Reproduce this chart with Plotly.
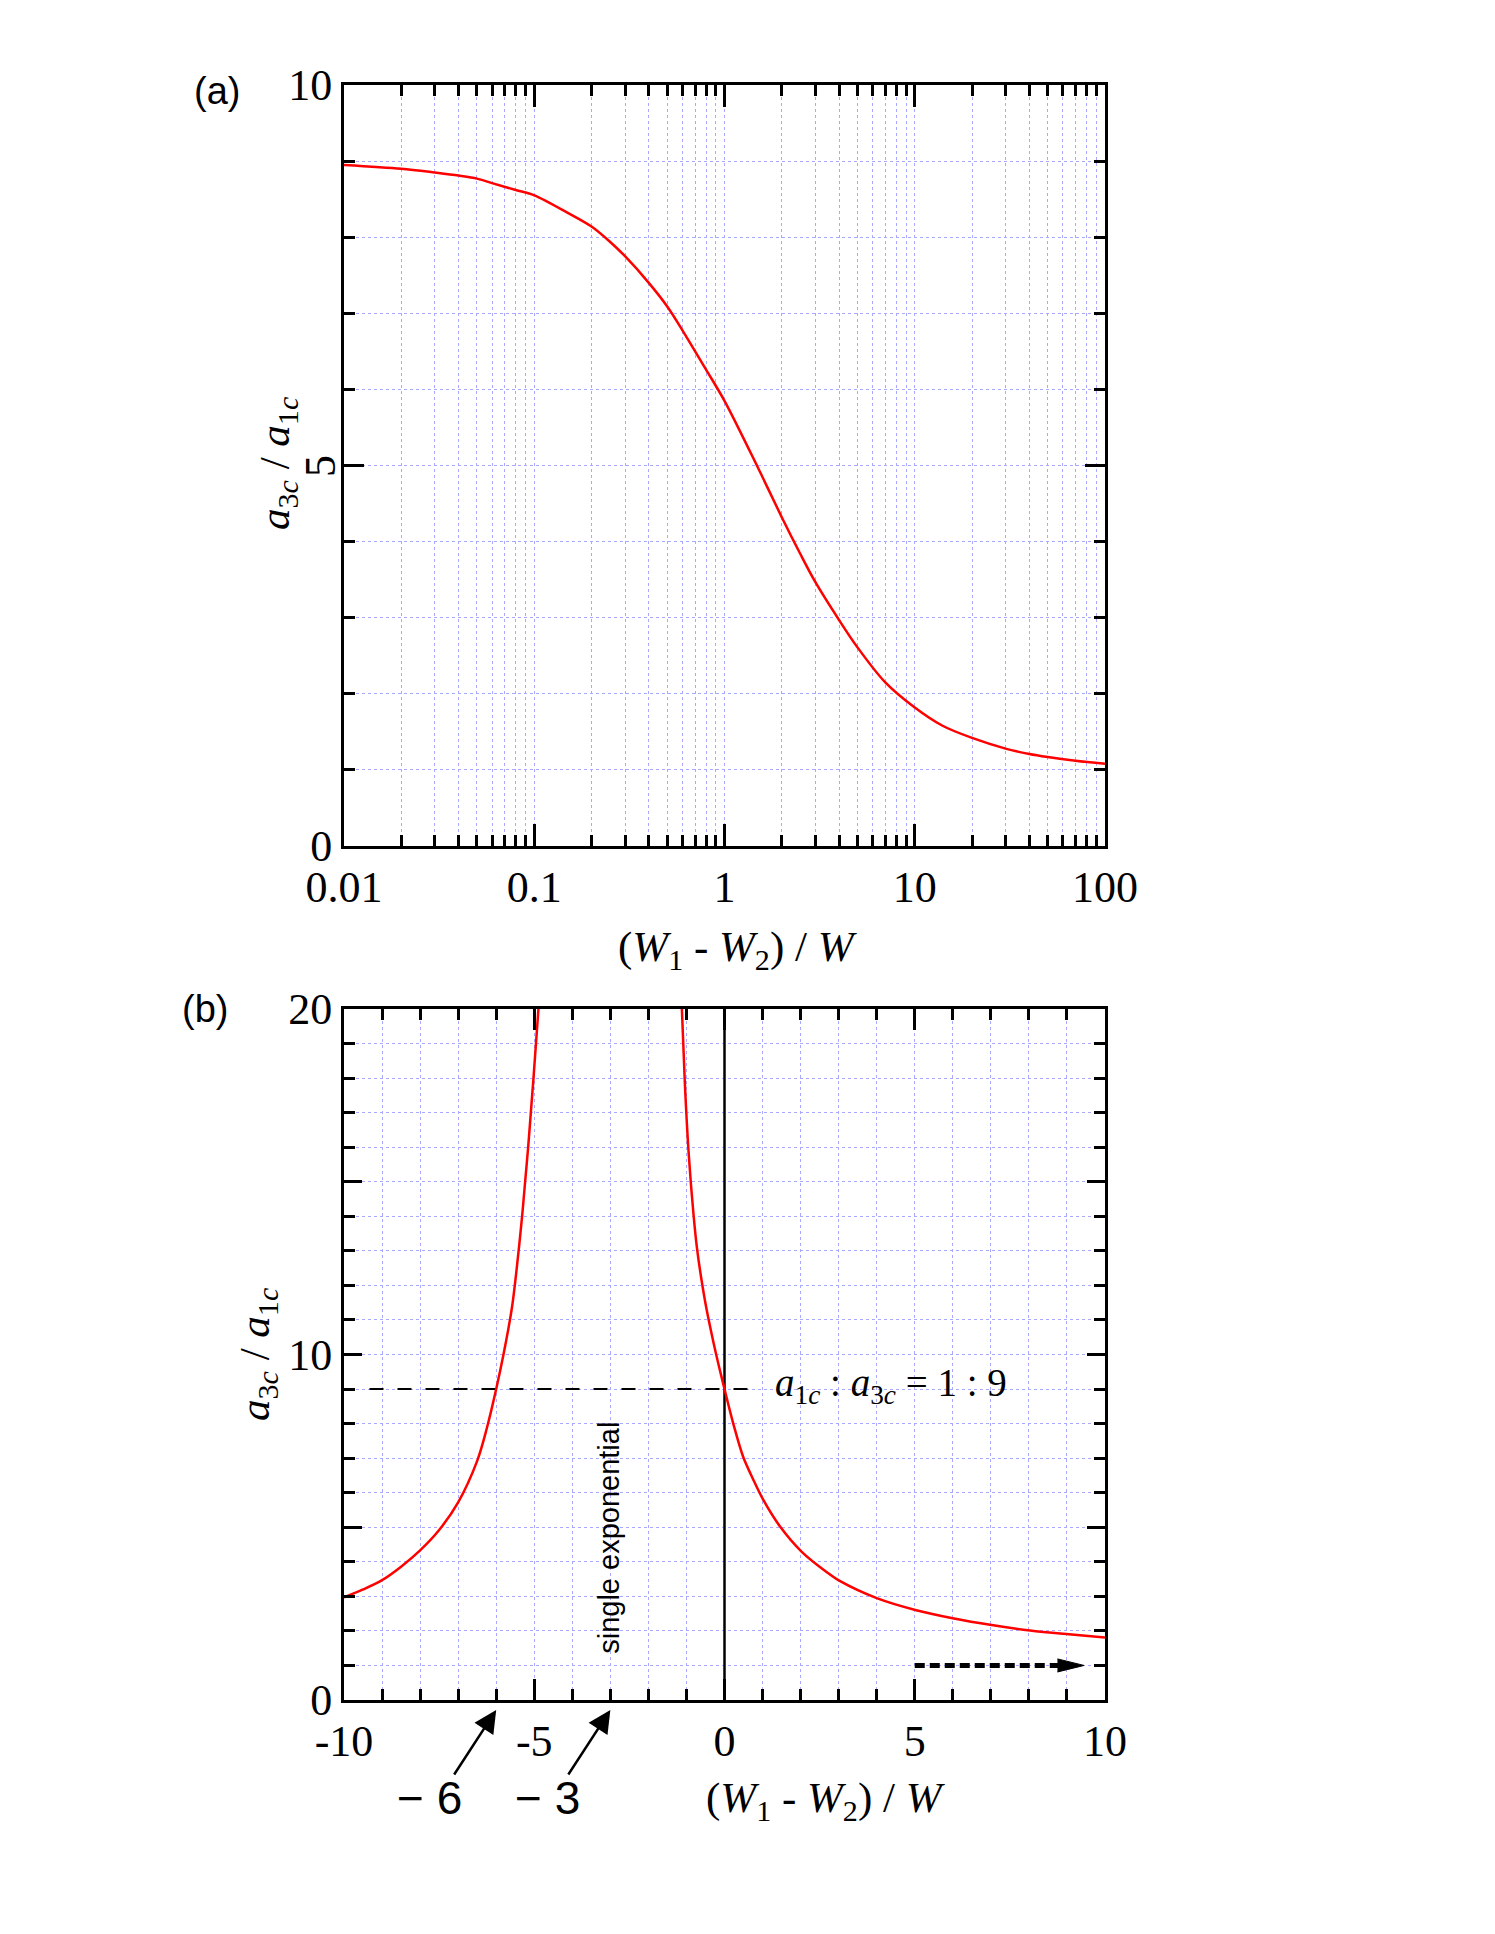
import plotly.graph_objects as go

# panel (a): a3c/a1c against (W1-W2)/W, log x axis
xa = [0.01, 0.02, 0.03, 0.04, 0.05, 0.06, 0.08, 0.1, 0.15, 0.2, 0.25, 0.3, 0.4, 0.5, 0.6, 0.8,
      1.0, 1.5, 2.0, 2.5, 3.0, 4.0, 5.0, 7.0, 10, 14, 20, 30, 40, 50, 70, 100]
ya = [8.95, 8.90, 8.85, 8.81, 8.77, 8.71, 8.62, 8.55, 8.32, 8.14, 7.94, 7.75, 7.40, 7.09, 6.78, 6.26,
      5.85, 4.97, 4.32, 3.84, 3.47, 2.97, 2.61, 2.15, 1.82, 1.58, 1.42, 1.28, 1.21, 1.17, 1.12, 1.08]

# panel (b): linear x axis, two branches around the poles
xb_left = [-10, -9.5, -9, -8.5, -8, -7.5, -7, -6.5, -6.25, -6, -5.81, -5.59, -5.46, -5.32, -5.24,
           -5.16, -5.09, -5.02, -4.89]
yb_left = [2.97, 3.20, 3.47, 3.86, 4.33, 4.92, 5.72, 6.92, 7.85, 9.0, 9.99, 11.33, 12.5, 13.99, 15.0,
           16.0, 17.0, 18.0, 20]
xb_right = [-1.12, -1.04, -0.94, -0.81, -0.72, -0.61, -0.47, -0.29, -0.14, 0, 0.23, 0.49, 0.76, 1.02,
            1.46, 2.03, 2.69, 3.04, 4.0, 5.04, 6.03, 7.02, 8.03, 9.05, 10]
yb_right = [20, 17.8, 15.8, 14.0, 13.05, 12.2, 11.3, 10.35, 9.63, 9.0, 8.0, 7.04, 6.37, 5.79,
            5.02, 4.29, 3.70, 3.44, 2.95, 2.60, 2.36, 2.17, 2.01, 1.90, 1.81]

# reference marks in panel (b)
ratio_x = [-9.33, 0.88]
ratio_y = [9, 9]
zero_x = [0, 0]
zero_y = [0, 20]
limit_x = [5, 8.8]
limit_y = [1, 1]
head_x = [8.75, 9.45, 8.75]
head_y = [0.81, 1.0, 1.19]
marked_x = [-6, -3]
marked_labels = ["\u2212 6", "\u2212 3"]

SERIF = "Liberation Serif"
SANS = "Liberation Sans"
GRID = "#a9a9ff"
W, H = 1495, 1934
OFF = 8  # page body margin


def px(x):
    return (x - OFF) / W


def py(y):
    return 1 - (y - OFF) / H


fig = go.Figure()
red = dict(color="red", width=2.5, shape="spline", smoothing=0.9)
fig.add_trace(go.Scatter(x=xa, y=ya, mode="lines", line=red, xaxis="x", yaxis="y", showlegend=False))
fig.add_trace(go.Scatter(x=zero_x, y=zero_y, mode="lines", line=dict(color="black", width=2.5),
                         xaxis="x2", yaxis="y2", showlegend=False))
fig.add_trace(go.Scatter(x=ratio_x, y=ratio_y, mode="lines", line=dict(color="black", width=2, dash="14px,14px"),
                         xaxis="x2", yaxis="y2", showlegend=False))
fig.add_trace(go.Scatter(x=xb_left, y=yb_left, mode="lines", line=red, xaxis="x2", yaxis="y2", showlegend=False))
fig.add_trace(go.Scatter(x=xb_right, y=yb_right, mode="lines", line=red, xaxis="x2", yaxis="y2", showlegend=False))
fig.add_trace(go.Scatter(x=limit_x, y=limit_y, mode="lines", line=dict(color="black", width=5, dash="10px,5px"),
                         xaxis="x2", yaxis="y2", showlegend=False))
fig.add_trace(go.Scatter(x=head_x, y=head_y, mode="lines", fill="toself", fillcolor="black",
                         line=dict(color="black", width=1), xaxis="x2", yaxis="y2", showlegend=False))

minor_grid = dict(ticks="inside", ticklen=11, tickwidth=2.5, tickcolor="black",
                  showgrid=True, gridcolor=GRID, gridwidth=1, griddash="3px,3px")
common = dict(showline=True, linecolor="black", linewidth=3, mirror="allticks", ticks="inside",
              tickcolor="black", tickwidth=2.5, showgrid=True, gridcolor=GRID, gridwidth=1,
              griddash="3px,3px", zeroline=False, automargin=False,
              tickfont=dict(family=SERIF, size=44, color="black"))

dx = [px(344), px(1105)]
log_minor = [m * 10 ** k for k in range(-2, 2) for m in range(2, 10)]

fig.update_layout(
    width=W, height=H, margin=dict(l=0, r=0, t=0, b=0, autoexpand=False),
    paper_bgcolor="white", plot_bgcolor="white",
    xaxis=dict(common, type="log", domain=dx, range=[-2, 2], anchor="y",
               tickvals=[0.01, 0.1, 1, 10, 100], ticktext=["0.01", "0.1", "1", "10", "100"], ticklen=22,
               minor=dict(minor_grid, tickvals=log_minor)),
    yaxis=dict(common, domain=[py(846), py(85)], range=[0, 10], anchor="x",
               tickvals=[0, 5, 10], ticktext=["0", " ", "10"], ticklen=20, minor=dict(minor_grid, dtick=1)),
    xaxis2=dict(common, domain=dx, range=[-10, 10], anchor="y2",
                tickvals=[-10, -5, 0, 5, 10], ticktext=["-10", "-5", "0", "5", "10"], ticklen=21,
                minor=dict(minor_grid, dtick=1)),
    yaxis2=dict(common, domain=[py(1700), py(1009)], range=[0, 20], anchor="x2",
                tickvals=[0, 5, 10, 15, 20], ticktext=["0", "", "10", "", "20"], ticklen=18,
                minor=dict(minor_grid, dtick=1)),
)

xtitle = "(<i>W</i><sub>1</sub> - <i>W</i><sub>2</sub>) / <i>W</i>"
ytitle = "<i>a</i><sub>3<i>c</i></sub> / <i>a</i><sub>1<i>c</i></sub>"
serif_t = dict(family=SERIF, size=43, color="black")


def paper_text(text, x, y, font, angle=0):
    return dict(text=text, x=px(x), y=py(y), xref="paper", yref="paper", showarrow=False,
                xanchor="center", yanchor="middle", font=font, textangle=angle)


ann = [
    paper_text(xtitle, 738, 950, serif_t),
    paper_text(ytitle, 278, 463, serif_t, -90),
    paper_text("5", 321, 466, dict(family=SERIF, size=44, color="black"), -90),
    paper_text(xtitle, 826, 1801, serif_t),
    paper_text(ytitle, 258, 1354, serif_t, -90),
    paper_text("(a)", 217, 91, dict(family=SANS, size=38, color="black")),
    paper_text("(b)", 205, 1009, dict(family=SANS, size=38, color="black")),
    dict(text="<i>a</i><sub>1<i>c</i></sub> : <i>a</i><sub>3<i>c</i></sub> = 1 : 9", x=1.28, y=9.1,
         xref="x2", yref="y2", xanchor="left", yanchor="middle", showarrow=False,
         font=dict(family=SERIF, size=39, color="black")),
    dict(text="single exponential", x=-3.04, y=4.69, xref="x2", yref="y2", showarrow=False, textangle=-90,
         xanchor="center", yanchor="middle", font=dict(family=SANS, size=29, color="black")),
]
for xv, lab, lx in zip(marked_x, marked_labels, [429, 547]):
    ann.append(dict(text="", x=xv, y=py(1710), xref="x2", yref="paper", ax=-43, ay=66, showarrow=True,
                    arrowhead=2, arrowsize=1.8, arrowwidth=2.5, arrowcolor="black", standoff=0))
    ann.append(paper_text(lab, lx, 1798, dict(family=SANS, size=46, color="black")))
fig.update_layout(annotations=ann)

fig.write_html("out.html")
